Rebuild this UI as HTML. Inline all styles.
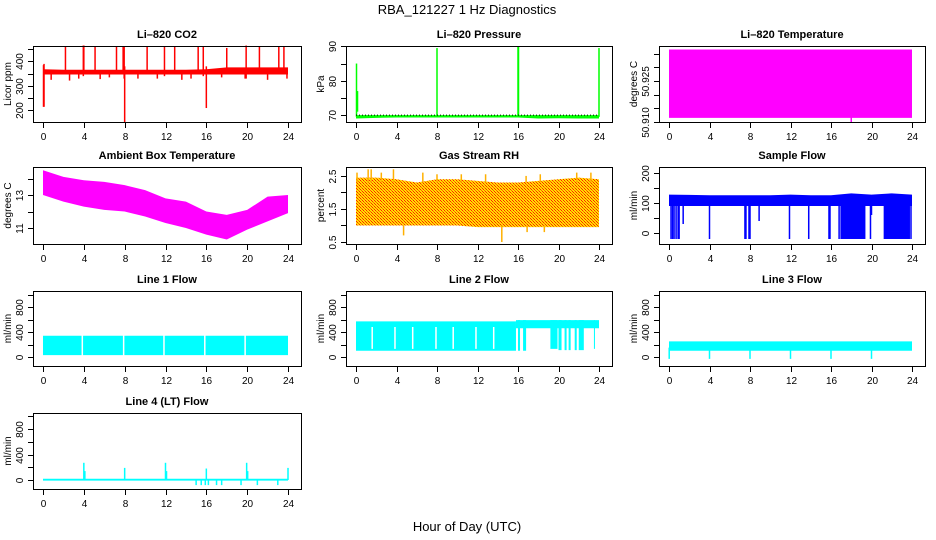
<!DOCTYPE html>
<html><head><meta charset="utf-8"><style>
html,body{margin:0;padding:0;background:#fff;}
svg{display:block;font-family:"Liberation Sans",sans-serif;}
</style></head><body>
<svg id="chart" width="936" height="540" viewBox="0 0 936 540" xmlns="http://www.w3.org/2000/svg">
<defs>
<pattern id="rhpat" width="3" height="3" patternUnits="userSpaceOnUse"><rect width="3" height="3" fill="#ffe000"/><rect width="1" height="1" fill="#ff2000"/><rect x="1" y="1" width="1" height="1" fill="#ff6000"/><rect x="2" y="2" width="1" height="1" fill="#ff2000"/></pattern>
</defs>
<text x="467" y="14" font-size="13" text-anchor="middle">RBA_121227  1 Hz Diagnostics</text>
<text x="467" y="531" font-size="13" text-anchor="middle">Hour of Day (UTC)</text>
</svg>
<script>
const xTicks=[0,4,8,12,16,20,24];
// CO2
const co2BandT=[0,2,4,6,8,10,12,14,16,18,20,22,24];
const co2BandLo=[347,347,347,347,347,347,347,347,347,347,347,347,347];
const co2BandHi=[368,366,366,366,366,366,366,366,368,376,376,376,376];
const co2SpikeT=[0.05,0.1,2.2,3.95,4.0,5.1,7.2,7.85,7.95,8.0,10.2,11.9,12.9,15.2,15.7,16.0,18.0,19.9,21.2,23.1,23.6,23.9,0.8,2.6,3.5,5.6,6.5,9.3,11.2,13.6,14.5,17.5,19.8,22.0];
const co2SpikeLo=[215,215,355,340,355,355,355,355,330,150,355,340,355,355,340,210,355,330,355,355,355,330,325,322,330,328,335,330,330,325,330,335,330,325];
const co2SpikeHi=[385,390,460,465,465,460,460,460,460,380,460,460,460,460,460,380,455,465,460,460,460,360,360,360,360,360,360,360,360,360,360,360,360,360];
// Pressure
const prBandT=[0,2,4,6,8,10,12,14,16,18,20,22,24];
const prBandLo=[69.0,69.2,69.3,69.3,69.3,69.3,69.3,69.3,69.3,69.0,69.1,69.0,69.0];
const prBandHi=[70.0,70.0,70.0,70.0,70.0,70.0,70.0,70.0,70.0,70.0,70.0,70.0,70.0];
const prSpikeT=[0.05,0.15,8.0,16.0,16.05,24.0];
const prSpikeLo=[69.5,71,69.5,69.5,69.5,69.5];
const prSpikeHi=[85,77,89.5,90,90,89.5];
// Li-820 temperature
const tmBandT=[0,24];
const tmBandLo=[50.9115,50.9115];
const tmBandHi=[50.9365,50.9365];
const tmSpikeT=[18.0];
const tmSpikeLo=[50.9100];
const tmSpikeHi=[50.9120];
// Ambient
const abBandT=[0,2,4,6,8,10,12,14,16,18,20,22,24];
const abBandHi=[14.5,14.1,13.9,13.8,13.6,13.3,12.8,12.6,12.0,11.8,12.1,12.9,13.0];
const abBandLo=[13.0,12.6,12.3,12.1,12.0,11.7,11.3,11.0,10.6,10.3,10.9,11.4,11.9];
// RH
const rhBandT=[0,2,4,6,8,10,12,14,16,18,20,22,24];
const rhBandLo=[1.0,1.0,1.0,1.0,1.0,1.0,0.95,0.95,0.95,0.95,0.95,0.95,0.95];
const rhBandHi=[2.45,2.45,2.4,2.3,2.4,2.4,2.35,2.3,2.3,2.35,2.4,2.45,2.4];
const rhSpikeT=[0.1,1.2,1.5,2.5,3.7,6.6,8.0,10.4,12.8,16.8,18.2,21.8,23.2,4.7,14.4,16.9,18.6];
const rhSpikeLo=[2.3,2.3,2.3,2.3,2.3,2.3,2.3,2.3,2.3,2.3,2.3,2.3,2.3,0.7,0.5,0.8,0.8];
const rhSpikeHi=[2.6,2.7,2.7,2.6,2.7,2.6,2.55,2.55,2.55,2.5,2.55,2.6,2.6,1.0,1.0,1.0,1.0];
// Sample flow
const sfBandT=[0,2,4,6,8,10,12,14,16,18,20,22,24];
const sfBandLo=[90,90,90,90,90,90,90,90,90,90,90,90,90];
const sfBandHi=[128,127,126,126,126,126,128,126,126,132,128,132,128];
const sfSpikeT=[0.2,0.35,0.5,0.7,0.9,1.0,1.4,4.0,7.5,7.6,7.9,8.0,8.9,11.9,13.8,15.8,15.9,16.8,17.0,19.9,20.0,23.9];
const sfSpikeLo=[-20,-20,-20,-20,-20,-20,30,-20,-20,-20,-20,-20,40,-20,-20,-20,-20,-20,-20,-20,60,-20];
const sfSpikeHi=[95,95,95,95,95,95,95,95,95,95,95,95,95,95,95,95,95,95,95,95,95,95];
const sfBlockT0=[17.0,21.2];
const sfBlockT1=[19.4,23.8];
const sfBlockLo=[-20,-20];
const sfBlockHi=[120,120];
// Line 1
const l1BandT=[0,24];
const l1BandLo=[30,30];
const l1BandHi=[340,340];
const l1GapT=[3.85,7.9,11.85,15.85,19.8];
const l1GapLo=[20,20,20,20,20];
const l1GapHi=[360,360,360,360,360];
// Line 2
const l2BlockT0=[0,15.8,16.0,16.5,19.2,20.0,20.6,21.0,21.6,22.0,23.5];
const l2BlockT1=[15.8,24.0,16.2,16.8,19.9,20.3,20.8,21.2,21.8,22.5,23.6];
const l2BlockLo=[100,460,100,100,130,110,110,110,110,110,130];
const l2BlockHi=[570,590,590,590,590,590,590,590,590,590,590];
const l2GapT=[1.6,3.85,5.6,7.9,9.6,11.85,13.6];
const l2GapLo=[130,130,130,130,130,130,130];
const l2GapHi=[480,480,480,480,480,480,480];
// Line 3
const l3BandT=[0,24];
const l3BandLo=[100,100];
const l3BandHi=[250,250];
const l3SpikeT=[0.02,4.0,8.0,12.0,16.0,20.0];
const l3SpikeLo=[-30,-30,-30,-30,-30,-30];
const l3SpikeHi=[150,150,150,150,150,150];
// Line 4
const l4BandT=[0,24];
const l4BandLo=[-10,-10];
const l4BandHi=[20,20];
const l4SpikeT=[4.0,4.1,8.0,12.0,12.1,16.0,19.95,20.05,24.0,15.0,15.5,15.9,16.2,17.0,17.5,19.4,21.0,23.0];
const l4SpikeLo=[0,0,0,0,0,0,0,0,0,-80,-80,-80,-80,-80,-80,-80,-80,-80];
const l4SpikeHi=[270,140,190,270,140,180,270,140,190,0,0,0,0,0,0,0,0,0];

const svg=document.getElementById('chart');
const NS='http://www.w3.org/2000/svg';
function mk(tag,attrs,parent){const e=document.createElementNS(NS,tag);for(const k in attrs)e.setAttribute(k,attrs[k]);(parent||svg).appendChild(e);return e;}
const cols=[[33,301],[346,612],[659,925]];
const rows=[[46,122],[167,244],[291,366],[413,489]];
const lineTicks=[[0,'0'],[200,''],[400,'400'],[600,''],[800,'800'],[1000,'']];
const panels=[
 {name:'co2',title:'Li\u2013820 CO2',c:0,r:0,dom:[153,463],ylab:'Licor ppm',ticks:[[200,'200'],[250,''],[300,'300'],[350,''],[400,'400'],[450,'']],color:'#ff0000',band:[co2BandT,co2BandLo,co2BandHi],spikes:[co2SpikeT,co2SpikeLo,co2SpikeHi]},
 {name:'pressure',title:'Li\u2013820 Pressure',c:1,r:0,dom:[68,90.1],ylab:'kPa',ticks:[[70,'70'],[75,''],[80,'80'],[85,''],[90,'90']],color:'#00ff00',band:[prBandT,prBandLo,prBandHi],spikes:[prSpikeT,prSpikeLo,prSpikeHi],dotted:70},
 {name:'li820-temperature',title:'Li\u2013820 Temperature',c:2,r:0,dom:[50.910,50.9378],ylab:'degrees C',ticks:[[50.910,'50.910'],[50.915,''],[50.920,''],[50.925,'50.925'],[50.930,''],[50.935,'']],color:'#ff00ff',band:[tmBandT,tmBandLo,tmBandHi],spikes:[tmSpikeT,tmSpikeLo,tmSpikeHi]},
 {name:'ambient-temperature',title:'Ambient Box Temperature',c:0,r:1,dom:[10.03,14.7],ylab:'degrees C',ticks:[[11,'11'],[12,''],[13,'13'],[14,'']],color:'#ff00ff',band:[abBandT,abBandLo,abBandHi]},
 {name:'gas-rh',title:'Gas Stream RH',c:1,r:1,dom:[0.44,2.77],ylab:'percent',ticks:[[0.5,'0.5'],[1,''],[1.5,'1.5'],[2,''],[2.5,'2.5']],color:'url(#rhpat)',band:[rhBandT,rhBandLo,rhBandHi],spikes:[rhSpikeT,rhSpikeLo,rhSpikeHi]},
 {name:'sample-flow',title:'Sample Flow',c:2,r:1,dom:[-36.7,220],ylab:'ml/min',ticks:[[0,'0'],[50,''],[100,'100'],[150,''],[200,'200']],color:'#0000ff',band:[sfBandT,sfBandLo,sfBandHi],spikes:[sfSpikeT,sfSpikeLo,sfSpikeHi],blocks:[sfBlockT0,sfBlockT1,sfBlockLo,sfBlockHi]},
 {name:'line1-flow',title:'Line 1 Flow',c:0,r:2,dom:[-144,1056],ylab:'ml/min',ticks:lineTicks,color:'#00ffff',band:[l1BandT,l1BandLo,l1BandHi],gaps:[l1GapT,l1GapLo,l1GapHi]},
 {name:'line2-flow',title:'Line 2 Flow',c:1,r:2,dom:[-144,1056],ylab:'ml/min',ticks:lineTicks,color:'#00ffff',blocks:[l2BlockT0,l2BlockT1,l2BlockLo,l2BlockHi],gaps:[l2GapT,l2GapLo,l2GapHi]},
 {name:'line3-flow',title:'Line 3 Flow',c:2,r:2,dom:[-144,1056],ylab:'ml/min',ticks:lineTicks,color:'#00ffff',band:[l3BandT,l3BandLo,l3BandHi],spikes:[l3SpikeT,l3SpikeLo,l3SpikeHi]},
 {name:'line4-flow',title:'Line 4 (LT) Flow',c:0,r:3,dom:[-141,1051],ylab:'ml/min',ticks:lineTicks,color:'#00ffff',band:[l4BandT,l4BandLo,l4BandHi],spikes:[l4SpikeT,l4SpikeLo,l4SpikeHi]}
];
panels.forEach(p=>{
 const L=cols[p.c][0],R=cols[p.c][1],T=rows[p.r][0],B=rows[p.r][1];
 const x=t=>L+10+t*(R-L-23)/24;
 const y=v=>B-(v-p.dom[0])/(p.dom[1]-p.dom[0])*(B-T);
 const g=mk('g',{});
 
 
 const ttl=mk('text',{x:(L+R)/2,y:T-8,'font-size':11,'font-weight':'bold','text-anchor':'middle'},g);
 ttl.textContent=p.title;
 
 
 if(p.band){const [bt,lo,hi]=p.band;let pts=[];
  for(let i=0;i<bt.length;i++)pts.push(x(bt[i])+','+y(hi[i]));
  for(let i=bt.length-1;i>=0;i--)pts.push(x(bt[i])+','+y(lo[i]));
  const e=mk('polygon',{points:pts.join(' '),fill:p.color},g);
  
  }
 if(p.blocks){const [t0,t1,lo,hi]=p.blocks;for(let i=0;i<t0.length;i++){
  const e=mk('rect',{x:x(t0[i]),y:y(hi[i]),width:Math.max(1,x(t1[i])-x(t0[i])),height:y(lo[i])-y(hi[i]),fill:p.color},g);
  
  }}
 if(p.gaps){const [gt,lo,hi]=p.gaps;for(let i=0;i<gt.length;i++){
  const e=mk('line',{x1:x(gt[i]),x2:x(gt[i]),y1:y(lo[i]),y2:y(hi[i]),stroke:'#fff','stroke-width':1.5},g);
  
  }}
 if(p.spikes){const [st,lo,hi]=p.spikes;const sc=p.color.startsWith('url')?'#ffb000':p.color;for(let i=0;i<st.length;i++){
  const e=mk('line',{x1:x(st[i]),x2:x(st[i]),y1:y(lo[i]),y2:y(hi[i]),stroke:sc,'stroke-width':1.5},g);
  
  }}
 if(p.dotted!==undefined){const e=mk('line',{x1:x(0),x2:x(24),y1:y(p.dotted),y2:y(p.dotted),stroke:'#000','stroke-width':1,'stroke-dasharray':'1,2'},g);
  
  }
 const box=mk('rect',{x:L+0.5,y:T+0.5,width:R-L,height:B-T,fill:'none',stroke:'#000','stroke-width':1},g);
 
 
 xTicks.forEach(t=>{const xx=Math.round(x(t))+0.5;
  mk('line',{x1:xx,x2:xx,y1:B,y2:B+6,stroke:'#000'},g);
  const tx=mk('text',{x:xx,y:B+18,'font-size':10,'text-anchor':'middle'},g);tx.textContent=t;
  
  });
 p.ticks.forEach(([v,lab])=>{const yy=Math.round(y(v))+0.5;
  mk('line',{x1:L-5,x2:L,y1:yy,y2:yy,stroke:'#000'},g);
  if(lab){const tx=mk('text',{x:0,y:0,'font-size':10,'text-anchor':'middle',transform:`translate(${L-10},${yy}) rotate(-90)`},g);tx.textContent=lab;
  
  }});
 const yl=mk('text',{x:0,y:0,'font-size':10,'text-anchor':'middle',transform:`translate(${L-22},${(T+B)/2}) rotate(-90)`},g);
 yl.textContent=p.ylab;
 
 
});
</script>
</body></html>
